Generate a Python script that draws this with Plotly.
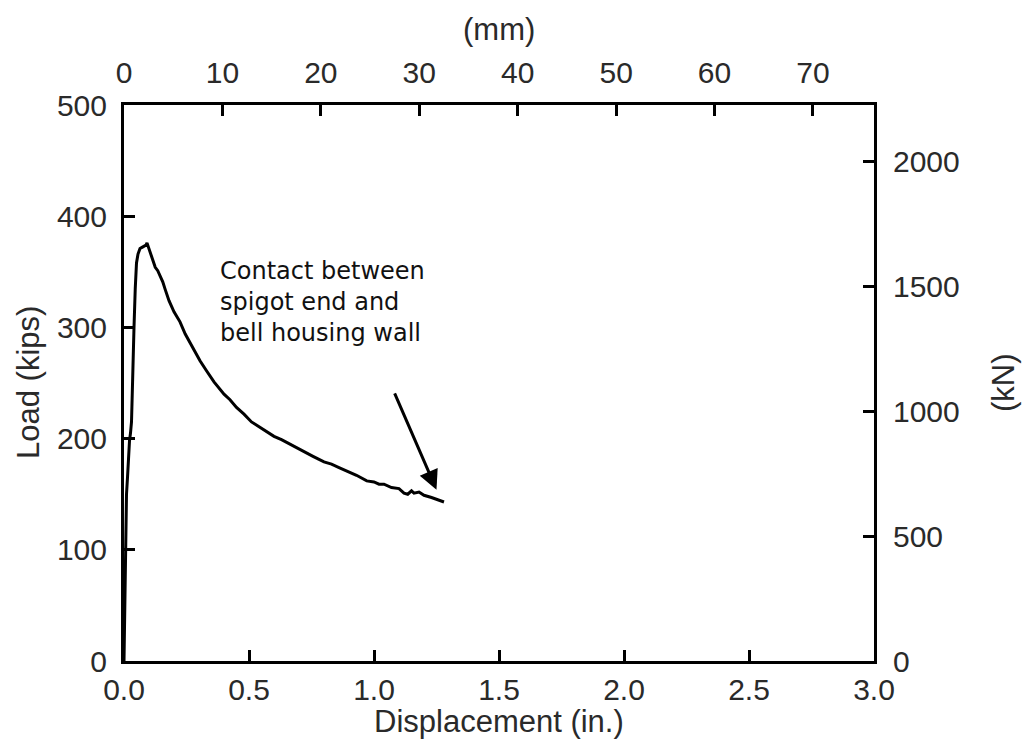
import plotly.graph_objects as go

# Load-displacement record (displacement in inches, load in kips)
disp_in = [0.000, 0.003, 0.005, 0.007, 0.010, 0.014, 0.018, 0.022, 0.026, 0.030,
           0.033, 0.036, 0.040, 0.045, 0.050, 0.056, 0.064, 0.072, 0.080, 0.088,
           0.092, 0.098, 0.105, 0.115, 0.125, 0.135, 0.145, 0.155, 0.165, 0.180,
           0.200, 0.224, 0.245, 0.270, 0.304, 0.330, 0.360, 0.400, 0.424, 0.450,
           0.480, 0.510, 0.556, 0.600, 0.630, 0.670, 0.700, 0.730, 0.756, 0.800,
           0.830, 0.860, 0.900, 0.930, 0.971, 1.000, 1.020, 1.040, 1.070, 1.100,
           1.120, 1.135, 1.150, 1.160, 1.180, 1.200, 1.230, 1.260, 1.280]
load_kips = [0, 50, 100, 135, 150, 165, 185, 198, 205, 215,
             240, 272, 300, 335, 358, 366, 371, 372, 373, 374,
             376, 372, 366, 360, 354, 351, 346, 341, 334, 324,
             314, 305, 294, 284, 270, 261, 251, 240, 235, 228,
             222, 215, 208, 202, 199, 194, 191, 187, 184, 179,
             177, 174, 170, 167, 162, 161, 159, 159, 156, 155,
             151, 150, 153, 151, 152, 149, 147, 145, 143]

x_ticks_in = [0.0, 0.5, 1.0, 1.5, 2.0, 2.5, 3.0]
y_ticks_kips = [0, 100, 200, 300, 400, 500]
x_ticks_mm = [0, 10, 20, 30, 40, 50, 60, 70]
y_ticks_kn = [0, 500, 1000, 1500, 2000]

note_lines = ["Contact between", "spigot end and", "bell housing wall"]

IN_TO_MM = 25.4
KIP_TO_KN = 4.44822
X_MAX_IN = 3.0
Y_MAX_KIPS = 500

FONT = "Liberation Sans, Arial, sans-serif"
TEXT_COLOR = "#2a2a2a"
TICK_SIZE = 30

fig = go.Figure()
fig.add_trace(go.Scatter(
    x=disp_in, y=load_kips, mode="lines",
    line=dict(color="black", width=3),
    showlegend=False, hoverinfo="skip",
))
# companion trace so the metric axes are drawn
fig.add_trace(go.Scatter(
    x=[0], y=[0], xaxis="x2", yaxis="y2", mode="markers",
    marker=dict(opacity=0), showlegend=False, hoverinfo="skip",
))


def axis_style(standoff):
    return dict(
        showline=True, linecolor="black", linewidth=3,
        ticks="inside", ticklen=11, tickwidth=3, tickcolor="black",
        showgrid=False, zeroline=False,
        tickfont=dict(family=FONT, size=TICK_SIZE, color=TEXT_COLOR),
        ticklabelstandoff=standoff,
    )


fig.update_layout(
    width=1024, height=751,
    margin=dict(l=124, r=150, t=105, b=90),
    paper_bgcolor="white", plot_bgcolor="white",
    xaxis=dict(range=[0, X_MAX_IN], tickvals=x_ticks_in,
               ticktext=[f"{v:.1f}" for v in x_ticks_in], **axis_style(0)),
    yaxis=dict(range=[0, Y_MAX_KIPS], tickvals=y_ticks_kips, **axis_style(8)),
    xaxis2=dict(range=[0, X_MAX_IN * IN_TO_MM], tickvals=x_ticks_mm,
                overlaying="x", side="top", anchor="y", **axis_style(7)),
    yaxis2=dict(range=[0, Y_MAX_KIPS * KIP_TO_KN], tickvals=y_ticks_kn,
                overlaying="y", side="right", anchor="x", **axis_style(10)),
)

title_font = dict(family=FONT, size=31, color=TEXT_COLOR)
fig.add_annotation(text="Displacement (in.)", xref="paper", yref="paper",
                   x=0.5, y=0.0, yshift=-60, showarrow=False,
                   font=title_font, xanchor="center", yanchor="middle")
fig.add_annotation(text="(mm)", xref="paper", yref="paper",
                   x=0.5, y=1.0, yshift=76, showarrow=False,
                   font=title_font, xanchor="center", yanchor="middle")
fig.add_annotation(text="Load (kips)", xref="paper", yref="paper",
                   x=0.0, xshift=-96, y=0.5, showarrow=False, textangle=-90,
                   font=title_font, xanchor="center", yanchor="middle")
fig.add_annotation(text="(kN)", xref="paper", yref="paper",
                   x=1.0, xshift=129, y=0.5, showarrow=False, textangle=-90,
                   font=title_font, xanchor="center", yanchor="middle")

# note and pointer to the contact point
fig.add_annotation(text="<br>".join(note_lines), x=0.375, y=365,
                   xref="x", yref="y", showarrow=False, align="left",
                   xanchor="left", yanchor="top",
                   font=dict(family="DejaVu Sans, sans-serif", size=24,
                             color="#111111"))
fig.add_annotation(x=1.25, y=154, ax=1.08, ay=242,
                   xref="x", yref="y", axref="x", ayref="y",
                   showarrow=True, arrowhead=2, arrowsize=1.3,
                   arrowwidth=3, arrowcolor="black", text="")

fig.write_html("out.html")
